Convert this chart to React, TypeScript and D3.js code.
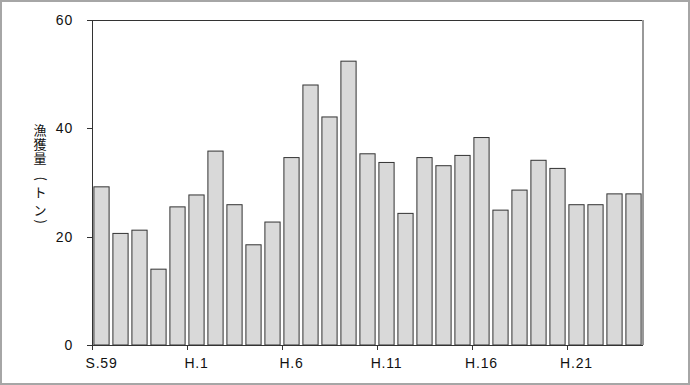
import React from 'react';
import * as d3 from 'd3';

const years = [
  'S.59', 'S.60', 'S.61', 'S.62', 'S.63',
  'H.1', 'H.2', 'H.3', 'H.4', 'H.5', 'H.6', 'H.7', 'H.8', 'H.9', 'H.10',
  'H.11', 'H.12', 'H.13', 'H.14', 'H.15', 'H.16', 'H.17', 'H.18', 'H.19', 'H.20',
  'H.21', 'H.22', 'H.23', 'H.24',
];
const catch_t = [
  29.2, 20.6, 21.2, 14.0, 25.5,
  27.7, 35.8, 25.9, 18.5, 22.7, 34.6, 48.0, 42.1, 52.4, 35.3,
  33.7, 24.3, 34.6, 33.1, 35.0, 38.3, 24.9, 28.6, 34.1, 32.6,
  25.9, 25.9, 27.9, 27.9,
];
const xTickLabels = ['S.59', 'H.1', 'H.6', 'H.11', 'H.16', 'H.21'];
const yTicks = [0, 20, 40, 60];
// vertical axis title, one glyph per row; parentheses get turned
const yLabelChars = ['漁', '獲', '量', '(', 'ト', 'ン', ')'];
const yLabelRows = [130, 144, 158, 179, 192, 210, 222];

const W = 690;
const H = 385;
const margin = { top: 20, right: 47, bottom: 40, left: 92 };

export default function App() {
  const x = d3
    .scaleBand<string>()
    .domain(years)
    .range([margin.left, W - margin.right])
    .paddingInner(0.2)
    .paddingOuter(0.1);
  const y = d3
    .scaleLinear()
    .domain([0, 60])
    .range([H - margin.bottom, margin.top]);

  const step = x.step();
  const left = margin.left;
  const right = W - margin.right;
  const bottom = H - margin.bottom;
  // category boundaries, used for x ticks
  const bandStart = (c: string) => left + years.indexOf(c) * step;
  const font = '"Liberation Sans", Arial, sans-serif';
  const jp = '"Noto Sans CJK JP", sans-serif';
  const labelX = 40;
  const fs = 13;

  return (
    <svg
      width={W}
      height={H}
      style={{ position: 'absolute', left: 0, top: 0, background: '#fff' }}
    >
      <rect x={1} y={1} width={W - 2} height={H - 2} fill="none" stroke="#a6a6a6" strokeWidth={2} />

      {/* bars */}
      {years.map((c, i) => (
        <rect
          key={c}
          x={x(c)}
          y={y(catch_t[i])}
          width={x.bandwidth()}
          height={bottom - y(catch_t[i])}
          fill="#d9d9d9"
          stroke="#333"
          strokeWidth={1}
        />
      ))}

      {/* frame */}
      <line x1={left} x2={right} y1={margin.top + 0.5} y2={margin.top + 0.5} stroke="#333" />
      <line x1={right} x2={right} y1={margin.top} y2={bottom} stroke="#999" strokeWidth={2} />

      {/* y axis */}
      <line x1={left + 0.5} x2={left + 0.5} y1={margin.top} y2={bottom} stroke="#333" />
      {yTicks.map((t) => (
        <g key={t}>
          <line x1={left - 5} x2={left} y1={Math.round(y(t)) + 0.5} y2={Math.round(y(t)) + 0.5} stroke="#333" />
          <text
            x={left - 19}
            y={y(t)}
            dy="0.35em"
            textAnchor="end"
            fontFamily={font}
            fontSize={14}
            letterSpacing={0.8}
            fill="#111"
          >
            {t}
          </text>
        </g>
      ))}

      {/* x axis */}
      <line x1={left} x2={right} y1={bottom + 0.5} y2={bottom + 0.5} stroke="#333" />
      {xTickLabels.map((c) => (
        <g key={c}>
          <line
            x1={Math.round(bandStart(c)) + 0.5}
            x2={Math.round(bandStart(c)) + 0.5}
            y1={bottom}
            y2={bottom + 5}
            stroke="#333"
          />
          <text
            x={(x(c) ?? 0) + x.bandwidth() / 2}
            y={bottom + 23}
            textAnchor="middle"
            fontFamily={font}
            fontSize={14}
            letterSpacing={0.8}
            fill="#111"
          >
            {c}
          </text>
        </g>
      ))}

      {/* y label, stacked vertically in one text element */}
      <text fontFamily={jp} fontSize={fs} fill="#111">
        {yLabelChars.map((ch, i) => {
          const cy = yLabelRows[i];
          if (ch === '(' || ch === ')') {
            // glyph turned 90deg about its own origin
            return (
              <tspan key={i} x={labelX - 4} y={cy - 2.5} rotate={90} textAnchor="start">
                {ch}
              </tspan>
            );
          }
          return (
            <tspan key={i} x={labelX} y={cy + 0.38 * fs} textAnchor="middle">
              {ch}
            </tspan>
          );
        })}
      </text>
    </svg>
  );
}
